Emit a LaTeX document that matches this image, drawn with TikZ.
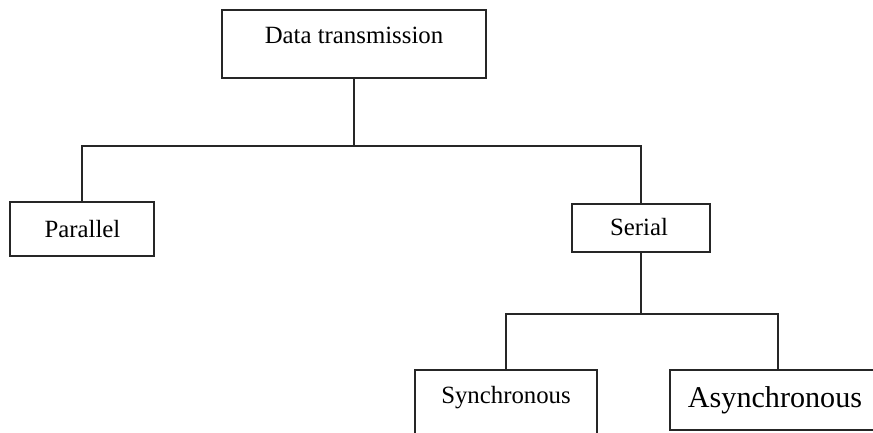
\documentclass[tikz,border=0pt]{standalone}
\usepackage{fontspec}
\setmainfont{Liberation Serif}
\begin{document}
\begin{tikzpicture}[x=0.75pt,y=-0.75pt,
  box/.style={draw=black!85,line width=1.5pt,rectangle,inner sep=0pt},
  lbl/.style={anchor=base,inner sep=0pt,font=\fontsize{18.6}{22}\selectfont},
  biglbl/.style={anchor=base,inner sep=0pt,font=\fontsize{22.6}{27}\selectfont},
  wire/.style={draw=black!85,line width=1.5pt}]
\useasboundingbox (0,0) rectangle (873,432);
\clip (0,0) rectangle (873,432);
\fill[white] (0,0) rectangle (873,432);

% boxes
\node[box,minimum width=198pt,minimum height=51pt] (dt) at (354,44) {};
\node[box,minimum width=108pt,minimum height=40.5pt] (par) at (82,229) {};
\node[box,minimum width=103.5pt,minimum height=36pt] (ser) at (641,228) {};
\node[box,minimum width=136.5pt,minimum height=52.5pt] (syn) at (506,405) {};
\node[box,minimum width=172.5pt,minimum height=45pt] (asy) at (785,400) {};

% labels
\node[lbl] (tdt) at (354,43) {Data transmission};
\node[lbl] (tpar) at (82.5,237) {Parallel};
\node[lbl] (tser) at (639,235) {Serial};
\node[lbl] (tsyn) at (506,403) {Synchronous};
\node[biglbl] (tasy) at (775,407) {Asynchronous};

% junctions of the tree
\coordinate (j1) at (354,146);
\coordinate (j2) at (641,314);
\coordinate (a2) at (778,370);

% connectors
\draw[wire] (dt.south) -- (j1);
\draw[wire] (par.north) |- (j1) -| (ser.north);
\draw[wire] (ser.south) -- (j2);
\draw[wire] (syn.north) |- (j2) -| (a2);
\end{tikzpicture}
\end{document}
